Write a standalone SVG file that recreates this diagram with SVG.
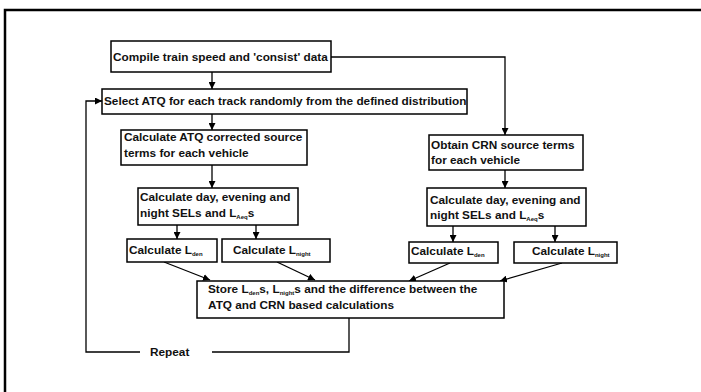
<svg xmlns="http://www.w3.org/2000/svg" width="701" height="392" viewBox="0 0 701 392">
<defs>
<marker id="ah" viewBox="0 0 10 10" refX="10" refY="5" markerWidth="7" markerHeight="7" markerUnits="userSpaceOnUse" orient="auto">
<path d="M0,0 L10,5 L0,10 z" fill="#000"/>
</marker>
<style>
rect{fill:#fff;stroke:#000;stroke-width:1.5}
text{font-family:"Liberation Sans",Arial,sans-serif;font-size:11.8px;font-weight:bold;fill:#111}
.sub{font-size:6px}
#connectors path{fill:none;stroke:#000;stroke-width:1.3}
.arr{marker-end:url(#ah)}
</style>
</defs>
<rect x="0" y="0" width="701" height="392" style="stroke:none;fill:#fff"/>
<path d="M5,392 L5,10 L701,10" style="fill:none;stroke:#000;stroke-width:2.5"/>
<g id="connectors">
<path class="arr" d="M212,72 L212,89"/>
<path d="M331,57 L505,57 L505,135" class="arr"/>
<path class="arr" d="M212,114 L212,130"/>
<path class="arr" d="M212,165 L212,188"/>
<path class="arr" d="M177,225 L177,239"/>
<path class="arr" d="M256,225 L256,239"/>
<path class="arr" d="M164,262 L210,280"/>
<path class="arr" d="M277,262 L315,280"/>
<path class="arr" d="M505,170 L505,188"/>
<path class="arr" d="M453,226 L453,242"/>
<path class="arr" d="M555,226 L555,242"/>
<path class="arr" d="M450,263 L409,281"/>
<path class="arr" d="M562,263 L500,281"/>
<path d="M349,318 L349,352 L212,352"/>
<path class="arr" d="M140,352 L86,352 L86,101 L102,101"/>
</g>
<g id="n-compile">
<rect x="111" y="41" width="220" height="31"/>
<text x="113" y="61">Compile train speed and 'consist' data</text>
</g>
<g id="n-select">
<rect x="102" y="89" width="365" height="25"/>
<text x="104" y="105">Select ATQ for each track randomly from the defined distribution</text>
</g>
<g id="n-atq">
<rect x="121" y="130" width="186" height="35"/>
<text x="124" y="141">Calculate ATQ corrected source</text>
<text x="124" y="157">terms for each vehicle</text>
</g>
<g id="n-day-left">
<rect x="138" y="188" width="160" height="37"/>
<text x="140" y="201">Calculate day, evening and</text>
<text x="140" y="217">night SELs and L<tspan class="sub" dy="2">Aeq</tspan><tspan dy="-2">s</tspan></text>
</g>
<g id="n-lden-left">
<rect x="127" y="239" width="90" height="23"/>
<text x="129" y="254">Calculate L<tspan class="sub" dy="2">den</tspan></text>
</g>
<g id="n-lnight-left">
<rect x="222" y="239" width="108" height="23"/>
<text x="233" y="254">Calculate L<tspan class="sub" dy="2">night</tspan></text>
</g>
<g id="n-crn">
<rect x="429" y="135" width="154" height="35"/>
<text x="431" y="149">Obtain CRN source terms</text>
<text x="431" y="164">for each vehicle</text>
</g>
<g id="n-day-right">
<rect x="427" y="188" width="159" height="38"/>
<text x="430" y="204">Calculate day, evening and</text>
<text x="430" y="219">night SELs and L<tspan class="sub" dy="2">Aeq</tspan><tspan dy="-2">s</tspan></text>
</g>
<g id="n-lden-right">
<rect x="409" y="242" width="89" height="21"/>
<text x="411" y="255">Calculate L<tspan class="sub" dy="2">den</tspan></text>
</g>
<g id="n-lnight-right">
<rect x="514" y="242" width="103" height="21"/>
<text x="532" y="255">Calculate L<tspan class="sub" dy="2">night</tspan></text>
</g>
<g id="n-store">
<rect x="197" y="281" width="307" height="37"/>
<text x="208" y="293">Store L<tspan class="sub" dy="2">den</tspan><tspan dy="-2">s, L</tspan><tspan class="sub" dy="2">night</tspan><tspan dy="-2">s and the difference between the</tspan></text>
<text x="208" y="309">ATQ and CRN based calculations</text>
</g>
<g id="n-repeat">
<text x="150" y="356">Repeat</text>
</g>
</svg>
